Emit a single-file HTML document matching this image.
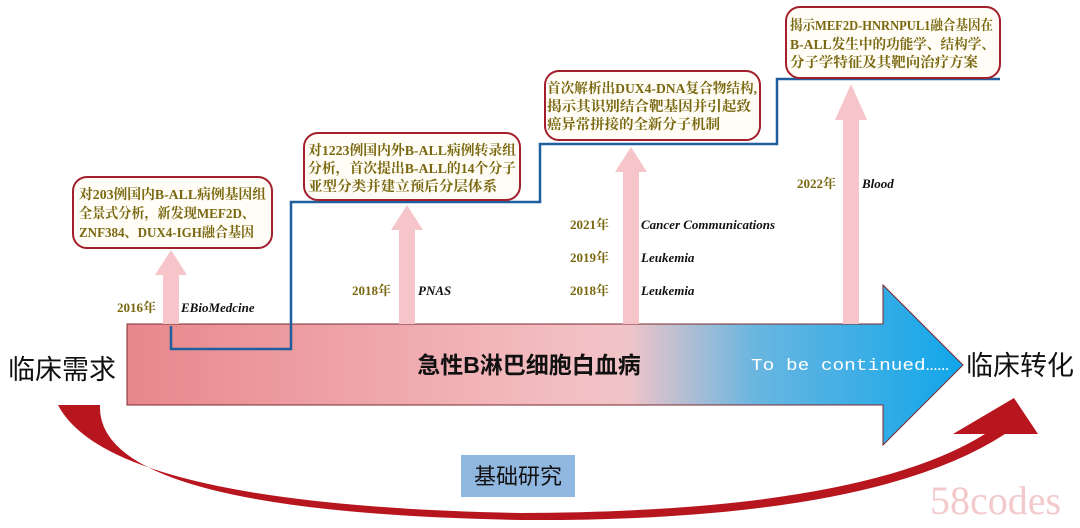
<!DOCTYPE html>
<html><head><meta charset="utf-8"><style>
body{margin:0;background:#fff;}
svg{display:block;}
.bt{font-family:"Liberation Serif","Noto Serif CJK SC",serif;font-weight:bold;font-size:14px;fill:#7a6810;}
.yr{font-family:"Liberation Serif","Noto Serif CJK SC",serif;font-weight:bold;font-size:13px;fill:#7a6810;}
.jr{font-family:"Liberation Serif",serif;font-weight:bold;font-style:italic;font-size:13px;fill:#111;}
.big{font-family:"Liberation Sans","Noto Sans CJK SC",sans-serif;font-size:27px;fill:#111;}
</style></head><body>
<svg width="1080" height="528" viewBox="0 0 1080 528">
<defs>
<linearGradient id="g" x1="127" y1="0" x2="963" y2="0" gradientUnits="userSpaceOnUse">
<stop offset="0" stop-color="#e8878c"/>
<stop offset="0.5" stop-color="#f3bcc0"/>
<stop offset="0.6" stop-color="#f0c4c8"/>
<stop offset="0.75" stop-color="#6ab6e0"/>
<stop offset="1" stop-color="#10a6ea"/>
</linearGradient>
</defs>
<polygon points="127,324 883,324 883,285 963,365 883,445 883,405 127,405" fill="url(#g)" stroke="#7a2a30" stroke-width="1"/>
<g fill="#f6c5c9">
<polygon points="163,324 163,275 155,275 171,250 187,275 179,275 179,324"/>
<polygon points="399,324 399,230 391,230 407,205 423,230 415,230 415,324"/>
<polygon points="623,324 623,172 615,172 631,147 647,172 639,172 639,324"/>
<polygon points="843,324 843,120 835,120 851,84 867,120 859,120 859,324"/>
</g>
<polyline points="171,326 171,349 291,349 291,202 540,202 540,144 777,144 777,79 1000,79" fill="none" stroke="#1f5f9e" stroke-width="2.5"/>
<g fill="#fffdf6" stroke="#a31f2c" stroke-width="2">
<rect x="73" y="177" width="199" height="71" rx="14"/>
<rect x="304" y="133" width="216" height="67" rx="14"/>
<rect x="545" y="71" width="215" height="69" rx="14"/>
<rect x="786" y="7" width="214" height="71" rx="14"/>
</g>
<text class="bt"><tspan x="79" y="199" textLength="187" lengthAdjust="spacingAndGlyphs">对203例国内B-ALL病例基因组</tspan><tspan x="79" y="218" textLength="176" lengthAdjust="spacingAndGlyphs">全景式分析，新发现MEF2D、</tspan><tspan x="79" y="237" textLength="175" lengthAdjust="spacingAndGlyphs">ZNF384、DUX4-IGH融合基因</tspan></text>
<text class="bt"><tspan x="308" y="155" textLength="208" lengthAdjust="spacingAndGlyphs">对1223例国内外B-ALL病例转录组</tspan><tspan x="308" y="173" textLength="208" lengthAdjust="spacingAndGlyphs">分析，首次提出B-ALL的14个分子</tspan><tspan x="308" y="191" textLength="189" lengthAdjust="spacingAndGlyphs">亚型分类并建立预后分层体系</tspan></text>
<text class="bt"><tspan x="547" y="93" textLength="210" lengthAdjust="spacingAndGlyphs">首次解析出DUX4-DNA复合物结构,</tspan><tspan x="547" y="111" textLength="204" lengthAdjust="spacingAndGlyphs">揭示其识别结合靶基因并引起致</tspan><tspan x="547" y="129" textLength="173" lengthAdjust="spacingAndGlyphs">癌异常拼接的全新分子机制</tspan></text>
<text class="bt"><tspan x="790" y="30" textLength="203" lengthAdjust="spacingAndGlyphs">揭示MEF2D-HNRNPUL1融合基因在</tspan><tspan x="790" y="49" textLength="205" lengthAdjust="spacingAndGlyphs">B-ALL发生中的功能学、结构学、</tspan><tspan x="790" y="67" textLength="188" lengthAdjust="spacingAndGlyphs">分子学特征及其靶向治疗方案</tspan></text>
<text class="yr" x="117" y="312">2016年</text><text class="jr" x="181" y="312">EBioMedcine</text>
<text class="yr" x="352" y="295">2018年</text><text class="jr" x="418" y="295">PNAS</text>
<text class="yr" x="570" y="229">2021年</text><text class="jr" x="641" y="229">Cancer Communications</text>
<text class="yr" x="570" y="262">2019年</text><text class="jr" x="641" y="262">Leukemia</text>
<text class="yr" x="570" y="295">2018年</text><text class="jr" x="641" y="295">Leukemia</text>
<text class="yr" x="797" y="188">2022年</text><text class="jr" x="862" y="188">Blood</text>
<text x="529" y="373" text-anchor="middle" font-family="Liberation Sans,'Noto Sans CJK SC',sans-serif" font-weight="bold" font-size="23" fill="#111">急性B淋巴细胞白血病</text>
<text x="751" y="370" font-family="Liberation Mono,monospace" font-size="17" fill="#fff" textLength="198" lengthAdjust="spacingAndGlyphs">To be continued……</text>
<text class="big" x="8" y="379">临床需求</text>
<text class="big" x="966" y="375">临床转化</text>
<path d="M58,405 Q110,505 520,513 Q860,512 985,434 L953,434 L1014,398 L1038,434 L1005,434 Q870,522 520,520 Q95,512 100,405 Z" fill="#b8161f"/>
<rect x="461" y="455" width="114" height="42" fill="#8fb7e0"/>
<text x="518" y="484" text-anchor="middle" font-family="Liberation Sans,'Noto Sans CJK SC',sans-serif" font-size="22" fill="#111">基础研究</text>
<text x="930" y="514" font-family="Liberation Serif,serif" font-size="40" fill="#f3c9cc">58codes</text>
</svg>
</body></html>
